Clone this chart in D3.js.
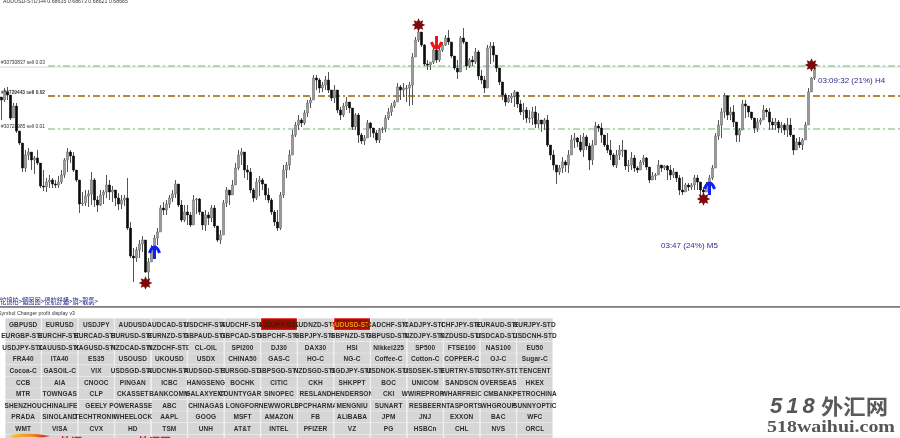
<!DOCTYPE html>
<html><head><meta charset="utf-8">
<script src="https://cdnjs.cloudflare.com/ajax/libs/d3/7.8.5/d3.min.js"></script>
<style>html,body{margin:0;padding:0;background:#fff;overflow:hidden}svg{display:block;filter:blur(0.3px)}</style>
</head><body><div id="c"></div>
<script>
// Prices in points (1 point = 0.00001 above a 0.68000 reference, scaled)
const highs=[903,912,913,897,897,897,869,857,850,852,845,844,850,837,830,822,825,822,820,824,830,842,852,850,848,830,820,808,810,810,828,822,804,810,810,825,820,814,810,807,805,805,822,778,752,753,760,764,760,742,755,765,772,795,798,800,805,810,820,814,800,795,795,788,805,802,802,788,790,788,795,795,774,770,800,813,810,820,837,850,852,848,835,832,812,822,824,822,816,812,802,790,790,808,835,838,850,870,878,885,882,890,900,903,925,925,922,918,924,928,910,915,905,893,897,903,895,892,887,887,867,865,880,878,872,870,872,873,885,892,897,900,917,915,917,915,918,947,963,972,967,956,940,938,954,953,955,958,965,970,958,944,940,964,972,958,942,944,952,950,930,924,955,958,958,942,932,915,907,905,907,910,905,900,897,893,890,893,894,887,878,882,885,855,850,832,835,843,840,850,865,867,863,865,867,865,857,860,878,876,
877,860,867,860,847,850,855,860,837,840,848,845,834,840,845,843,830,828,827,840,835,835,835,835,832,828,825,823,817,817,817,825,825,815,813,818,825,835,867,880,892,907,905,893,895,877,872,900,900,893,885,882,882,882,895,892,892,882,882,880,878,877,882,882,863,862,863,862,878,912,923,932];
const lows=[880,898,900,880,886,867,855,828,828,840,830,826,835,812,809,808,812,812,812,812,816,822,828,837,828,818,787,794,794,793,795,793,788,794,796,802,800,798,794,790,791,794,770,742,718,738,742,748,727,721,738,742,755,768,785,785,792,798,802,793,778,778,775,773,775,786,785,770,769,775,778,772,758,756,768,793,795,805,815,830,835,822,820,807,798,800,804,810,800,797,785,774,769,770,802,822,830,845,863,870,873,875,883,892,902,910,907,908,910,907,899,897,887,880,883,890,887,870,870,857,856,855,863,863,862,857,857,867,868,880,884,892,900,900,903,898,894,895,945,958,953,934,930,930,936,937,938,948,954,955,942,930,921,936,956,930,932,934,936,920,916,907,918,936,938,928,915,900,894,897,897,893,892,885,880,877,877,875,872,872,868,870,853,840,830,816,825,827,828,827,848,852,853,848,843,850,830,835,857,868,
857,853,847,840,833,832,840,843,830,828,830,828,827,830,835,830,817,820,820,825,828,830,820,820,822,818,805,805,808,809,810,810,810,805,805,810,815,820,840,860,862,882,880,880,873,858,858,870,882,883,880,867,868,875,880,883,870,870,870,867,867,865,863,863,845,852,852,850,860,888,908,920];
const closes=[900,908,905,882,894,869,857,832,845,848,840,842,837,814,813,818,820,816,815,818,825,840,848,844,830,820,796,797,804,806,820,800,795,805,808,815,808,810,802,796,800,802,772,744,742,750,756,760,728,738,752,762,768,792,790,796,802,806,816,795,780,788,785,775,800,801,788,775,785,782,792,774,760,765,797,810,805,815,832,845,848,830,828,810,802,818,820,816,805,800,788,778,772,805,830,835,845,865,875,880,877,887,897,900,922,920,912,915,920,910,902,910,890,885,894,898,892,873,885,865,859,862,877,872,867,860,870,871,882,888,894,898,913,910,912,912,915,943,960,968,955,936,935,938,950,940,950,955,962,958,944,932,928,962,958,934,940,938,948,924,920,912,952,954,945,932,918,905,898,902,904,908,896,888,890,882,882,888,876,880,876,880,855,845,835,828,832,838,835,845,860,862,858,850,863,854,840,855,874,872,
865,855,850,845,835,845,850,850,834,835,842,832,830,838,842,833,820,824,825,835,832,834,830,825,828,822,810,808,815,813,815,822,818,810,808,815,822,832,864,875,888,904,885,888,878,865,870,896,894,888,882,872,878,880,890,888,878,875,878,872,875,870,875,865,850,858,855,860,875,908,922,930];

const orderLabels=["#30730837 sell 0.03","#30729443 sell 0.02","#30728985 sell 0.01"];
const orderPrices=[934,904,871];
const starBars=[48,139,234,270], starPrices=[717,975,801,935];
const arrowBars=[51,236,145], arrowPrices=[748,812,957], arrowDirs=["up","up","down"];
const headerText="AUDUSD-STD,H4  0.68635 0.68673 0.68621 0.68665";
const buttonRows=[
["GBPUSD","EURUSD","USDJPY","AUDUSD","AUDCAD-STD","USDCHF-STD","AUDCHF-STD","AUDJPY-STD","AUDNZD-STD","AUDUSD-STD","CADCHF-STD","CADJPY-STD","CHFJPY-STD","EURAUD-STD","EURJPY-STD"],
["EURGBP-STD","EURCHF-STD","EURCAD-STD","EURUSD-STD","EURNZD-STD","GBPAUD-STD","GBPCAD-STD","GBPCHF-STD","GBPJPY-STD","GBPNZD-STD","GBPUSD-STD","NZDJPY-STD","NZDUSD-STD","USDCAD-STD","USDCNH-STD"],
["USDJPY-STD","XAUUSD-STD","XAGUSD-STD","NZDCAD-STD","NZDCHF-STD","CL-OIL","SPI200","DJ30","DAX30","HSI","Nikkei225","SP500","FTSE100","NAS100","EU50"],
["FRA40","ITA40","ES35","USOUSD","UKOUSD","USDX","CHINA50","GAS-C","HO-C","NG-C","Coffee-C","Cotton-C","COPPER-C","OJ-C","Sugar-C"],
["Cocoa-C","GASOIL-C","VIX","USDSGD-STD","AUDCNH-STD","AUDSGD-STD","EURSGD-STD","GBPSGD-STD","NZDSGD-STD","SGDJPY-STD","USDNOK-STD","USDSEK-STD","EURTRY-STD","USDTRY-STD","TENCENT"],
["CCB","AIA","CNOOC","PINGAN","ICBC","HANGSENG","BOCHK","CITIC","CKH","SHKPPT","BOC","UNICOM","SANDSCN","OVERSEAS","HKEX"],
["MTR","TOWNGAS","CLP","CKASSET","BANKCOMM","GALAXYENT","COUNTYGARD","SINOPEC","RESLAND","HENDERSON","CKI","WWIREPROPE","WHARFREIC","CMBANK","PETROCHINA"],
["SHENZHOU","CHINALIFE","GEELY","POWERASSET","ABC","CHINAGAS","LONGFOR","NEWWORLD","SPCPHARMA","MENGNIU","SUNART","RESBEER","NTASPORTS","WHGROUP","SUNNYOPTIC"],
["PRADA","SINOLAND","TECHTRONIC","WHEELOCK","AAPL","GOOG","MSFT","AMAZON","FB","ALIBABA","JPM","JNJ","EXXON","BAC","WFC"],
["WMT","VISA","CVX","HD","TSM","UNH","AT&T","INTEL","PFIZER","VZ","PG","HSBCn","CHL","NVS","ORCL"],
["","","","","","","","","","","","","","",""]];
const activeButtons=["AUDJPY-STD","AUDUSD-STD"];

const W=900,H=438;
const svg=d3.select("#c").append("svg").attr("width",W).attr("height",H).attr("viewBox",`0 0 ${W} ${H}`);
const x=d3.scaleLinear().domain([0,271]).range([1.5,814.5]);
const y=d3.scaleLinear().domain([700,1000]).range([300,0]);
const sans="'Liberation Sans',Arial,sans-serif";

svg.append("text").attr("x",3).attr("y",3).attr("font-family",sans).attr("font-size",5.6).attr("fill","#333")
  .attr("textLength",125).attr("lengthAdjust","spacingAndGlyphs").text(headerText);

// order lines
const lineCols=["#74b674","#996400","#74b674"];
svg.append("line").attr("x1",0).attr("x2",W).attr("y1",y(orderPrices[0])+1).attr("y2",y(orderPrices[0])+1).attr("stroke","#c8d2c8").attr("stroke-width",0.8);
orderPrices.forEach((p,i)=>{
  svg.append("line").attr("x1",48).attr("x2",W).attr("y1",y(p)).attr("y2",y(p))
    .attr("stroke",lineCols[i]).attr("stroke-width",i==1?1.4:1.2).attr("stroke-dasharray","7 3 2 3");
  svg.append("text").attr("x",1).attr("y",y(p)-[2.2,2.2,0.8][i]).attr("font-family",sans).attr("font-size",6)
    .attr("fill","#333").attr("font-weight",i==1?"bold":"normal")
    .attr("textLength",44).attr("lengthAdjust","spacingAndGlyphs").text(orderLabels[i]);
});

// candles
const opens=closes.map((c,i)=>i?closes[i-1]:c+3);
const g=svg.append("g");
g.selectAll("line.w").data(closes).join("line").attr("class","w")
  .attr("x1",(d,i)=>x(i)).attr("x2",(d,i)=>x(i))
  .attr("y1",(d,i)=>y(highs[i])).attr("y2",(d,i)=>y(lows[i]))
  .attr("stroke","#555").attr("stroke-width",1);
g.selectAll("rect.b").data(closes).join("rect").attr("class","b")
  .attr("x",(d,i)=>x(i)-1.2)
  .attr("width",2.4)
  .attr("y",(d,i)=>y(Math.max(d,opens[i])))
  .attr("height",(d,i)=>Math.max(1,Math.abs(y(d)-y(opens[i]))))
  .attr("fill",(d,i)=>d<opens[i]?"#0a0a0a":"#9c9c9c")
  .attr("stroke",(d,i)=>d<opens[i]?"#0a0a0a":"#5c5c5c").attr("stroke-width",0.4);

// stars
const starPts=d3.range(16).map(k=>[k*Math.PI/8,k%2?3.9:6.8]);
const starPath=d3.lineRadial().curve(d3.curveLinearClosed)(starPts);
starBars.forEach((b,i)=>{
  svg.append("path").attr("d",starPath).attr("transform",`translate(${x(b)},${y(starPrices[i])})`).attr("fill","#7d0a0a");
});
// arrows
arrowBars.forEach((b,i)=>{
  const up=arrowDirs[i]=="up", s=up?1:-1, col=up?"#0f1ff0":"#f01414";
  const a=svg.append("g").attr("transform",`translate(${x(b)},${y(arrowPrices[i])}) scale(1,${s})`)
    .attr("fill","none").attr("stroke",col).attr("stroke-width",3);
  a.append("path").attr("d",d3.line()([[0,-5],[0,7]]));
  a.append("path").attr("d",d3.line().curve(d3.curveBasis)([[-5,1],[-3,-4],[0,-5.5],[3,-4],[5,1]]));
});

svg.append("text").attr("x",818).attr("y",82.5).attr("font-family",sans).attr("font-size",8).attr("fill","#2b2b90").text("03:09:32 (21%) H4");
svg.append("text").attr("x",661).attr("y",248).attr("font-family",sans).attr("font-size",8).attr("fill","#2b2b90").text("03:47 (24%) M5");
svg.append("text").attr("x",0).attr("y",304).attr("font-family","'Noto Sans CJK SC'").attr("font-size",7.5).attr("fill","#25258f")
  .attr("textLength",98).attr("lengthAdjust","spacingAndGlyphs").text("铊镜柏>镅图图>侵航舒蟠>旗>靓氯>");

svg.append("rect").attr("x",0).attr("y",306).attr("width",W).attr("height",1.8).attr("fill","#7f7f7f");
svg.append("text").attr("x",-2).attr("y",315).attr("font-family",sans).attr("font-size",5.6).attr("fill","#333")
  .attr("textLength",77).attr("lengthAdjust","spacingAndGlyphs").text("Symbol Changer profit display v3");

// buttons
const bx=d3.scaleBand().domain(d3.range(15)).range([6,552]).paddingInner(0.06).paddingOuter(0);
const by=d3.scalePoint().domain(d3.range(11)).range([319,435]);
const bh=10.2;
svg.append("rect").attr("x",5).attr("y",318).attr("width",548).attr("height",120).attr("fill","#efefef");
buttonRows.forEach((row,r)=>row.forEach((t,c)=>{
  const active=activeButtons.includes(t)&&r==0;
  const b=svg.append("svg").attr("x",bx(c)).attr("y",by(r)).attr("width",bx.bandwidth()).attr("height",bh);
  b.append("rect").attr("width",bx.bandwidth()).attr("height",bh).attr("fill",active?"#8f0f00":"#d6d6d6")
    .attr("stroke",active?"#e00000":"#cfcfcf").attr("stroke-width",active?1.4:0.5);
  if(t) b.append("text").attr("x",bx.bandwidth()/2).attr("y",7.5).attr("text-anchor","middle")
    .attr("font-family",sans).attr("font-weight","bold").attr("font-size",6.5).attr("letter-spacing",0.1)
    .attr("fill",active?(t=="AUDUSD-STD"?"#f09a10":"#5a1000"):"#2e2e2e").text(t);
}));

// bottom watermark fragments
const gr=svg.append("defs").append("linearGradient").attr("id","sw");
[["0","#f4c92a"],["0.55","#ef8a18"],["1","#c8141c"]].forEach(s=>gr.append("stop").attr("offset",s[0]).attr("stop-color",s[1]));
svg.append("path").attr("d","M10,435 Q30,432 50,436 L42,437.5 Q26,436 13,438 Z").attr("fill","url(#sw)");
svg.append("text").attr("x",60).attr("y",445.5).attr("font-family","'Noto Sans CJK SC'").attr("font-size",11).attr("font-weight","bold").attr("fill","#e41a1a").text("外汇");
svg.append("text").attr("x",138).attr("y",445.5).attr("font-family","'Noto Sans CJK SC'").attr("font-size",11).attr("font-weight","bold").attr("fill","#e41a1a").text("外汇网");

// site logo
svg.append("text").attr("x",770).attr("y",413).attr("font-family","'Liberation Sans'").attr("font-style","italic").attr("font-weight","bold").attr("font-size",22).attr("letter-spacing",4).attr("fill","#555").text("518");
svg.append("text").attr("x",821).attr("y",414).attr("font-family","'Noto Sans CJK SC'").attr("font-weight","bold").attr("font-size",21).attr("fill","#5a5a5a").attr("textLength",67).attr("lengthAdjust","spacingAndGlyphs").text("外汇网");
svg.append("text").attr("x",767).attr("y",432).attr("font-family","'Liberation Serif'").attr("font-weight","bold").attr("font-size",17.5).attr("fill","#555").attr("textLength",128).attr("lengthAdjust","spacingAndGlyphs").text("518waihui.com");
</script></body></html>
